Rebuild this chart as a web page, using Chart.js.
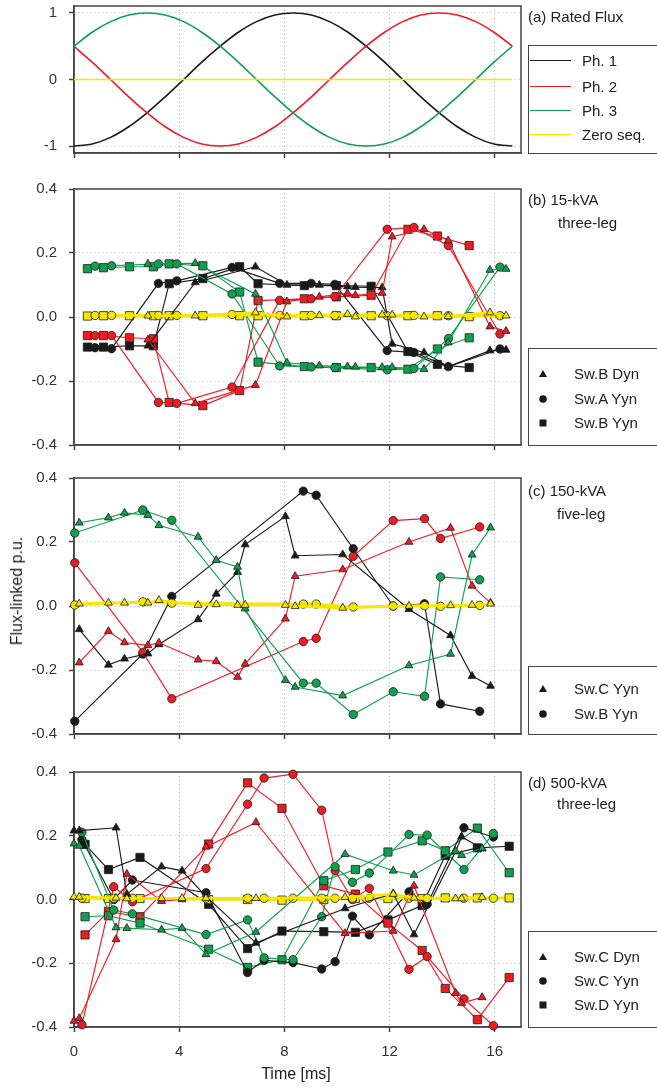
<!DOCTYPE html>
<html>
<head>
<meta charset="utf-8">
<script src="https://cdn.jsdelivr.net/npm/chart.js@4.4.0/dist/chart.umd.min.js"></script>
<style>
  html, body { margin: 0; padding: 0; background: #fff; }
  body { width: 657px; height: 1089px; position: relative; overflow: hidden;
         font-family: "Liberation Sans", Arial, sans-serif; color: #222; }
  canvas { position: absolute; left: 0; }
  .t { position: absolute; font-size: 15px; line-height: 18px; white-space: nowrap; }
  .box { position: absolute; border: 1.5px solid #444; box-sizing: border-box; }
  .item { position: absolute; font-size: 15px; line-height: 18px; white-space: nowrap; }
  .sw { position: absolute; height: 0; border-top: 1.5px solid; }
  svg.mk { position: absolute; overflow: visible; }
</style>
</head>
<body>
<canvas id="ca" width="530" height="169" style="top:-6px"></canvas>
<canvas id="cb" width="530" height="278" style="top:177px"></canvas>
<canvas id="cc" width="530" height="278" style="top:466px"></canvas>
<canvas id="cd" width="530" height="309" style="top:760px"></canvas>

<div class="t" style="left:528px;top:8px">(a) Rated Flux</div>
<div class="t" style="left:528px;top:191px">(b) 15-kVA</div>
<div class="t" style="left:558px;top:214px">three-leg</div>
<div class="t" style="left:528px;top:482px">(c) 150-kVA</div>
<div class="t" style="left:557px;top:505px">five-leg</div>
<div class="t" style="left:528px;top:774px">(d) 500-kVA</div>
<div class="t" style="left:557px;top:795px">three-leg</div>

<div class="t" style="left:17px;top:591px;font-size:16px;transform:translate(-50%,-50%) rotate(-90deg)">Flux-linked p.u.</div>
<div class="t" style="left:296px;top:1074px;font-size:16px;transform:translate(-50%,-50%)">Time [ms]</div>

<div id="legends"></div>

<script>
// ---- time axis
const X_TICKS = [0, 4, 8, 12, 16];

// ---- (a) Rated Flux
const tA = [0, 0.69, 1.39, 2.08, 2.78, 3.47, 4.17, 4.86, 5.56, 6.25, 6.94, 7.64, 8.33,
            9.03, 9.72, 10.42, 11.11, 11.81, 12.50, 13.19, 13.89, 14.58, 15.28, 15.97, 16.67];
const aPh1 = [-1, -0.97, -0.87, -0.71, -0.5, -0.26, 0, 0.26, 0.5, 0.71, 0.87, 0.97, 1,
              0.97, 0.87, 0.71, 0.5, 0.26, 0, -0.26, -0.5, -0.71, -0.87, -0.97, -1];
const aPh2 = [0.5, 0.26, 0, -0.26, -0.5, -0.71, -0.87, -0.97, -1, -0.97, -0.87, -0.71, -0.5,
              -0.26, 0, 0.26, 0.5, 0.71, 0.87, 0.97, 1, 0.97, 0.87, 0.71, 0.5];
const aPh3 = [0.5, 0.71, 0.87, 0.97, 1, 0.97, 0.87, 0.71, 0.5, 0.26, 0, -0.26, -0.5,
              -0.71, -0.87, -0.97, -1, -0.97, -0.87, -0.71, -0.5, -0.26, 0, 0.26, 0.5];
const aZero = [0, 0, 0, 0, 0, 0, 0, 0, 0, 0, 0, 0, 0, 0, 0, 0, 0, 0, 0, 0, 0, 0, 0, 0, 0];
const aTicks = [-1, 0, 1];

// ---- (b) 15-kVA three-leg
const bTriT  = [2.81, 4.61, 6.90, 8.10, 9.33, 10.40, 10.70, 11.72, 12.10, 13.31, 14.23, 15.82, 16.43];
const bTri1  = [-0.090, 0.108, 0.157, 0.100, 0.100, 0.095, 0.093, 0.092, -0.084, -0.111, -0.155, -0.105, -0.103];
const bTri2  = [-0.071, -0.270, -0.213, 0.048, 0.063, 0.074, 0.068, 0.075, 0.251, 0.274, 0.239, -0.030, -0.044];
const bTri3  = [0.166, 0.168, 0.072, -0.143, -0.152, -0.155, -0.156, -0.157, -0.157, -0.163, -0.080, 0.147, 0.150];
const bTri0  = [0.004, 0.004, 0.014, 0.001, 0.005, 0.009, 0.001, 0.007, 0.007, 0.001, 0.002, 0.014, 0.004];

const bCirT  = [0.80, 1.43, 3.21, 3.91, 6.01, 7.82, 9.02, 9.92, 11.91, 12.93, 14.24, 16.20];
const bCir1  = [-0.096, -0.099, 0.105, 0.113, 0.155, 0.105, 0.105, 0.102, -0.105, -0.111, -0.155, -0.100];
const bCir2  = [-0.058, -0.058, -0.267, -0.270, -0.219, 0.052, 0.057, 0.064, 0.274, 0.280, 0.223, -0.053];
const bCir3  = [0.159, 0.160, 0.166, 0.166, 0.072, -0.153, -0.156, -0.158, -0.165, -0.161, -0.067, 0.156];
const bCir0  = [0.005, 0.005, 0.005, 0.005, 0.008, 0.005, 0.005, 0.005, 0.004, 0.005, 0.004, 0.004];

const bSqT   = [0.51, 1.12, 2.11, 3.02, 3.62, 4.90, 6.30, 7.00, 8.76, 9.98, 11.30, 12.70, 13.82, 15.03];
const bSq1   = [-0.094, -0.094, -0.090, -0.090, 0.104, 0.120, 0.157, 0.104, 0.098, 0.098, 0.096, -0.108, -0.148, -0.158];
const bSq2   = [-0.058, -0.058, -0.065, -0.068, -0.267, -0.277, -0.230, 0.051, 0.057, 0.063, 0.068, 0.274, 0.253, 0.223];
const bSq3   = [0.151, 0.154, 0.157, 0.157, 0.166, 0.160, 0.078, -0.141, -0.155, -0.158, -0.158, -0.163, -0.100, -0.065];
const bSq0   = [0.003, 0.004, 0.004, 0.004, 0.004, 0.004, 0.004, 0.004, 0.004, 0.004, 0.004, 0.004, 0.004, 0.001];

// ---- (c) 150-kVA five-leg
const cTriT  = [0.20, 1.31, 1.92, 2.81, 3.23, 4.72, 5.41, 6.22, 6.51, 8.04, 8.41, 10.22, 12.74, 14.32, 15.14, 15.84];
const cTri1  = [-0.073, -0.184, -0.165, -0.149, -0.120, -0.042, 0.038, 0.106, 0.192, 0.280, 0.157, 0.161, -0.010, -0.092, -0.219, -0.250];
const cTri2  = [-0.177, -0.079, -0.114, -0.123, -0.115, -0.168, -0.173, -0.222, -0.181, -0.040, 0.093, 0.114, 0.200, 0.244, 0.063, 0.010];
const cTri3  = [0.260, 0.276, 0.291, 0.284, 0.252, 0.216, 0.143, 0.122, -0.008, -0.232, -0.253, -0.280, -0.186, -0.150, 0.160, 0.245];
const cTri0  = [0.007, 0.010, 0.010, 0.010, 0.018, 0.003, 0.005, 0.003, 0.003, 0.003, -0.001, -0.006, 0.000, 0.002, 0.003, 0.007];

const cCirT  = [0.03, 2.62, 3.72, 8.72, 9.21, 10.62, 12.14, 13.33, 13.94, 15.43];
const cCir1  = [-0.360, -0.150, 0.030, 0.359, 0.346, 0.179, 0.000, 0.007, -0.306, -0.329];
const cCir2  = [0.135, -0.145, -0.290, -0.111, -0.101, 0.155, 0.267, 0.273, 0.211, 0.247];
const cCir3  = [0.228, 0.300, 0.268, -0.241, -0.241, -0.339, -0.268, -0.282, 0.091, 0.082];
const cCir0  = [0.003, 0.013, 0.009, 0.006, 0.006, -0.003, 0.000, 0.001, -0.001, 0.002];

// ---- (d) 500-kVA three-leg
const dTriT  = [0.00, 0.20, 1.60, 2.01, 3.33, 4.11, 5.02, 6.92, 10.31, 12.14, 12.93, 14.51, 14.74, 15.52];
const dTri1  = [0.216, 0.216, 0.225, 0.017, 0.103, 0.090, 0.010, -0.136, -0.028, 0.019, -0.110, 0.150, 0.197, 0.160];
const dTri2  = [-0.381, -0.373, -0.125, 0.080, -0.005, 0.000, 0.165, 0.242, -0.106, -0.099, 0.043, -0.294, -0.325, -0.307];
const dTri3  = [0.175, 0.168, -0.088, -0.090, -0.095, -0.090, -0.172, -0.102, 0.142, 0.090, 0.077, 0.152, 0.139, 0.160];
const dTri0  = [0.008, 0.008, 0.005, 0.003, 0.004, 0.004, 0.004, 0.004, 0.007, 0.017, 0.005, 0.003, 0.003, 0.007];

const dCirT  = [0.30, 1.51, 2.22, 5.02, 6.60, 7.23, 8.33, 9.42, 9.93, 10.59, 11.23, 12.74, 13.43, 14.83, 15.95];
const dCir1  = [0.188, 0.000, 0.061, 0.021, -0.229, -0.191, -0.198, -0.218, -0.195, -0.052, -0.111, 0.024, -0.015, 0.225, 0.196];
const dCir2  = [-0.393, 0.040, -0.007, 0.097, 0.299, 0.381, 0.393, 0.280, 0.090, 0.000, 0.035, -0.219, -0.179, -0.312, -0.396];
const dCir3  = [0.211, -0.033, -0.045, -0.110, -0.064, -0.183, -0.189, -0.054, 0.103, 0.054, 0.083, 0.204, 0.202, 0.094, 0.207];
const dCir0  = [0.004, 0.004, 0.004, 0.004, 0.004, 0.004, 0.004, 0.004, 0.004, 0.004, 0.004, 0.004, 0.004, 0.004, 0.004];

const dSqT   = [0.42, 1.31, 2.51, 5.12, 6.60, 7.91, 9.50, 10.70, 11.94, 13.24, 14.12, 15.34, 16.55];
const dSq1   = [0.173, 0.094, 0.132, -0.015, -0.154, -0.099, -0.101, -0.103, -0.064, -0.019, 0.138, 0.162, 0.167];
const dSq2   = [-0.111, -0.038, -0.054, 0.174, 0.366, 0.286, 0.043, 0.017, -0.074, -0.160, -0.279, -0.377, -0.245];
const dSq3   = [-0.054, -0.051, -0.074, -0.156, -0.213, -0.189, 0.059, 0.094, 0.149, 0.184, 0.153, 0.224, 0.084];
const dSq0   = [0.003, 0.003, 0.003, 0.000, 0.000, -0.002, 0.000, 0.003, 0.003, 0.003, 0.005, 0.005, 0.005];

const pTicks = [-0.4, -0.2, 0, 0.2, 0.4];

// legend labels
const phaseNames = ['Ph. 1', 'Ph. 2', 'Ph. 3', 'Zero seq.'];
const bNames = ['Sw.B Dyn', 'Sw.A Yyn', 'Sw.B Yyn'];
const cNames = ['Sw.C Yyn', 'Sw.B Yyn'];
const dNames = ['Sw.C Dyn', 'Sw.C Yyn', 'Sw.D Yyn'];

// ---- styles
const COL = {
  p1: '#1a1a1a',
  p2: '#ec1c24',
  p3: '#0f9f4f',
  p0: '#f6e600'
};
const RAD = { triangle: 4.6, circle: 4.2, rect: 5.8 };
const FONT = { family: '"Liberation Sans", Arial, sans-serif', size: 15 };

const frame = {
  id: 'frame',
  beforeDatasetsDraw(chart) {
    const {ctx, chartArea: a} = chart;
    ctx.save();
    ctx.strokeStyle = '#444';
    ctx.lineWidth = 1.5;
    ctx.strokeRect(a.left, a.top, a.right - a.left, a.bottom - a.top);
    ctx.restore();
  }
};

function pts(t, v) {
  return t.map((x, i) => ({x: x, y: v[i]}));
}

function curve(t, v, key) {
  return {
    data: pts(t, v), borderColor: COL[key], borderWidth: 1.6,
    pointRadius: 0, cubicInterpolationMode: 'monotone', clip: false
  };
}

function marks(t, v, key, shape) {
  return {
    data: pts(t, v), borderColor: COL[key], borderWidth: key === 'p0' ? 2.6 : 1.15,
    backgroundColor: COL[key], pointBackgroundColor: COL[key],
    pointBorderColor: '#1c1c1c', pointBorderWidth: 0.8,
    pointStyle: shape, pointRadius: RAD[shape], pointHoverRadius: RAD[shape],
    tension: 0, clip: false
  };
}

// 4 phases of one switching case, yellow first so it sits on top
function group(t, v1, v2, v3, v0, shape) {
  return [marks(t, v0, 'p0', shape), marks(t, v3, 'p3', shape),
          marks(t, v2, 'p2', shape), marks(t, v1, 'p1', shape)];
}

function scales(yMin, yMax, yTicks, fmt, showX) {
  return {
    x: {
      type: 'linear', min: 0, max: 17,
      afterBuildTicks: s => { s.ticks = X_TICKS.map(v => ({value: v})); },
      afterFit: s => { s.height = showX ? 40 : 8; s.paddingLeft = 0; s.paddingRight = 0; },
      grid: { color: '#b8b8b8', lineWidth: 1, tickColor: '#444', tickWidth: 1.5, tickLength: 5 },
      border: { color: '#444', width: 1.5, dash: [1, 3] },
      ticks: { display: showX, font: FONT, color: '#333', padding: 11, maxRotation: 0 }
    },
    y: {
      type: 'linear', min: yMin, max: yMax,
      afterBuildTicks: s => { s.ticks = yTicks.map(v => ({value: v})); },
      afterFit: s => { s.width = 74; s.paddingTop = 0; s.paddingBottom = 0; },
      grid: { color: '#b8b8b8', lineWidth: 1, tickColor: '#444', tickWidth: 1.5, tickLength: 5 },
      border: { color: '#444', width: 1.5, dash: [1, 3] },
      ticks: { font: FONT, color: '#333', padding: 12, callback: fmt }
    }
  };
}

function make(id, datasets, yMin, yMax, yTicks, fmt, showX) {
  return new Chart(document.getElementById(id), {
    type: 'line',
    data: { datasets: datasets },
    options: {
      responsive: false, animation: false, events: [],
      layout: { padding: { top: 12, bottom: 2, left: 0, right: 9 } },
      plugins: { legend: { display: false }, tooltip: { enabled: false } },
      scales: scales(yMin, yMax, yTicks, fmt, showX)
    },
    plugins: [frame]
  });
}

const fmtA = v => String(v);
const fmtP = v => v.toFixed(1);

make('ca', [curve(tA, aZero, 'p0'), curve(tA, aPh3, 'p3'), curve(tA, aPh2, 'p2'), curve(tA, aPh1, 'p1')],
     -1.105, 1.105, aTicks, fmtA, false);

make('cb', [].concat(group(bTriT, bTri1, bTri2, bTri3, bTri0, 'triangle'),
                     group(bCirT, bCir1, bCir2, bCir3, bCir0, 'circle'),
                     group(bSqT, bSq1, bSq2, bSq3, bSq0, 'rect')),
     -0.4, 0.4, pTicks, fmtP, false);

make('cc', [].concat(group(cTriT, cTri1, cTri2, cTri3, cTri0, 'triangle'),
                     group(cCirT, cCir1, cCir2, cCir3, cCir0, 'circle')),
     -0.4, 0.4, pTicks, fmtP, false);

make('cd', [].concat(group(dTriT, dTri1, dTri2, dTri3, dTri0, 'triangle'),
                     group(dCirT, dCir1, dCir2, dCir3, dCir0, 'circle'),
                     group(dSqT, dSq1, dSq2, dSq3, dSq0, 'rect')),
     -0.4, 0.4, pTicks, fmtP, true);

// ---- legends (html boxes at the right)
const host = document.getElementById('legends');
function add(html) { host.insertAdjacentHTML('beforeend', html); }

function box(top, h) {
  add(`<div class="box" style="left:528px;top:${top}px;width:140px;height:${h}px"></div>`);
}
function marker(shape, cx, cy) {
  let s;
  if (shape === 'triangle') s = '<polygon points="0,-4 4,3 -4,3" fill="#1a1a1a"/>';
  else if (shape === 'circle') s = '<circle r="3.8" fill="#1a1a1a"/>';
  else s = '<rect x="-3.5" y="-3.5" width="7" height="7" fill="#1a1a1a"/>';
  add(`<svg class="mk" width="10" height="10" viewBox="-5 -5 10 10" style="left:${cx - 5}px;top:${cy - 5}px">${s}</svg>`);
}
function text(str, left, cy) {
  add(`<div class="item" style="left:${left}px;top:${cy - 9}px">${str}</div>`);
}

box(45, 109);
const aRows = [61, 86.5, 110.5, 135];
const aCols = [COL.p1, COL.p2, COL.p3, COL.p0];
phaseNames.forEach((n, i) => {
  add(`<div class="sw" style="left:530px;width:41px;top:${aRows[i] - 0.75}px;border-color:${aCols[i]}"></div>`);
  text(n, 582, aRows[i]);
});

const shapes = ['triangle', 'circle', 'rect'];
box(348, 98);
[374, 399, 422.5].forEach((y, i) => { marker(shapes[i], 543, y); text(bNames[i], 574, y); });

box(666, 69);
[688.5, 714].forEach((y, i) => { marker(shapes[i], 543, y); text(cNames[i], 574, y); });

box(931, 97);
[957, 981, 1005].forEach((y, i) => { marker(shapes[i], 543, y); text(dNames[i], 574, y); });
</script>
</body>
</html>
